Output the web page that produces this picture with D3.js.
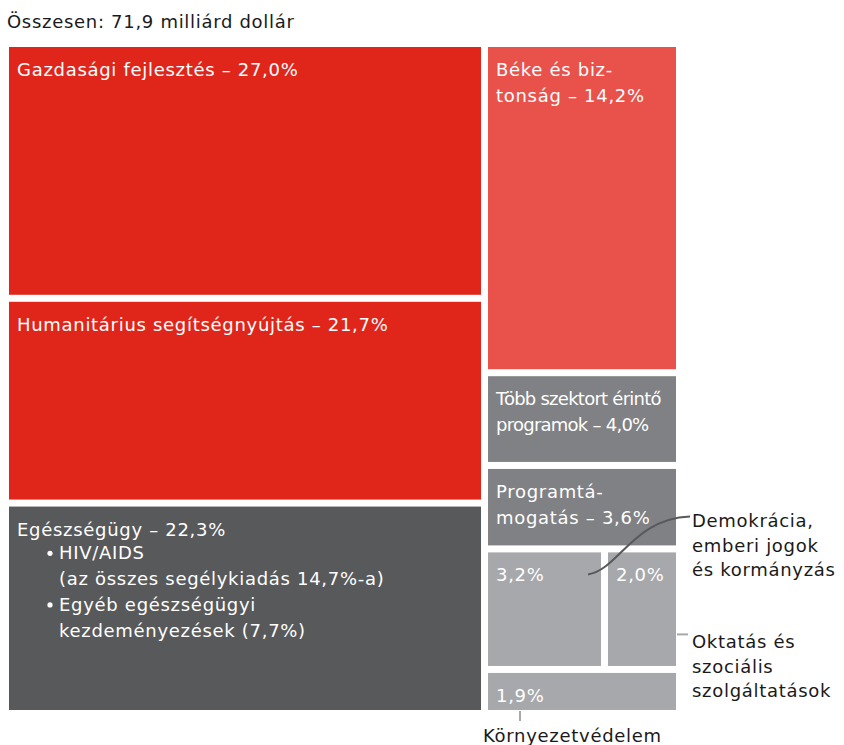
<!DOCTYPE html>
<html>
<head>
<meta charset="utf-8">
<script src="https://cdn.jsdelivr.net/npm/d3@7"></script>
<style>
  body { margin: 0; background: #fff; }
  svg text { font-family: "DejaVu Sans", sans-serif; letter-spacing: 0.7px; }
</style>
</head>
<body>
<div id="chart"></div>
<script>
// data
const title = "Összesen: 71,9 milliárd dollár";
const sectors = ["gazd", "hum", "eg", "beke", "tobb", "prog", "dem", "okt", "korny"];
const shares = [27.0, 21.7, 22.3, 14.2, 4.0, 3.6, 3.2, 2.0, 1.9];
const column = ["bal", "bal", "bal", "jobb", "jobb", "jobb", "kicsi", "kicsi", "jobb"];
const labels = [
  ["Gazdasági fejlesztés – 27,0%"],
  ["Humanitárius segítségnyújtás – 21,7%"],
  ["Egészségügy – 22,3%"],
  ["Béke és biz-", "tonság – 14,2%"],
  ["Több szektort érintő", "programok – 4,0%"],
  ["Programtá-", "mogatás – 3,6%"],
  ["3,2%"],
  ["2,0%"],
  ["1,9%"]
];
const healthBullets = [
  ["HIV/AIDS", "(az összes segélykiadás 14,7%-a)"],
  ["Egyéb egészségügyi", "kezdeményezések (7,7%)"]
];
const notes = {
  dem: ["Demokrácia,", "emberi jogok", "és kormányzás"],
  okt: ["Oktatás és", "szociális", "szolgáltatások"],
  korny: ["Környezetvédelem"]
};

const colors = {
  gazd: "#e0261b", hum: "#e0261b", beke: "#e8524b", eg: "#58595b",
  tobb: "#808184", prog: "#808184", dem: "#a7a8ab", okt: "#a7a8ab", korny: "#a7a8ab"
};

const w = 844, h = 745;
const margin = {top: 47, left: 9};
const innerWidth = 667, innerHeight = 663;
const fs = 18;

const svg = d3.select("#chart").append("svg")
  .attr("width", w)
  .attr("height", h);

svg.append("text")
  .attr("x", 7)
  .attr("y", 28)
  .attr("font-size", fs)
  .attr("fill", "#1a1a1a")
  .text(title);

// build hierarchy: left column, right column with a small sub-block
const leaf = i => ({name: sectors[i], value: shares[i], idx: i});
const idx = col => sectors.map((s, i) => i).filter(i => column[i] == col);
const tree = {
  name: "root", dir: "dice", children: [
    {name: "bal", dir: "slice", children: idx("bal").map(leaf)},
    {name: "jobb", dir: "slice", children: [
      ...idx("jobb").filter(i => sectors[i] != "korny").map(leaf),
      {name: "also", dir: "slice", children: [
        {name: "par", dir: "dice", children: idx("kicsi").map(leaf)},
        leaf(sectors.indexOf("korny"))
      ]}
    ]}
  ]
};

const root = d3.hierarchy(tree).sum(d => d.value || 0);
// keep data order, no sorting
d3.treemap()
  .size([innerWidth, innerHeight])
  .paddingInner(7)
  .tile((node, x0, y0, x1, y1) =>
    (node.data.dir == "dice" ? d3.treemapDice : d3.treemapSlice)(node, x0, y0, x1, y1))
  (root);

const plot = svg.append("g")
  .attr("transform", `translate(${margin.left}, ${margin.top})`);

const leaves = root.leaves();
const cell = plot.selectAll("g.cell")
  .data(leaves)
  .enter()
  .append("g")
  .attr("class", "cell")
  .attr("transform", d => `translate(${d.x0}, ${d.y0})`);

cell.append("rect")
  .attr("width", d => d.x1 - d.x0)
  .attr("height", d => d.y1 - d.y0)
  .attr("fill", d => colors[d.data.name]);

cell.append("text")
  .attr("fill", "#fff")
  .attr("font-size", fs)
  .style("letter-spacing", d => d.data.name == "tobb" ? "-0.75px" : null)
  .selectAll("tspan")
  .data(d => labels[d.data.idx])
  .enter()
  .append("tspan")
  .attr("x", 8)
  .attr("y", (d, i) => 29 + i * 26)
  .text(d => d);

// bullets inside the health tile
const eg = leaves.find(d => d.data.name == "eg");
const bullets = plot.append("g")
  .attr("transform", `translate(${eg.x0}, ${eg.y0})`);
healthBullets.forEach((lines, b) => {
  lines.forEach((line, j) => {
    const y = 27 + (1 + b * 2 + j) * 25.8;
    if (j == 0) {
      bullets.append("circle")
        .attr("cx", 41)
        .attr("cy", y - 6)
        .attr("r", 2.6)
        .attr("fill", "#fff");
    }
    bullets.append("text")
      .attr("x", 50)
      .attr("y", y)
      .attr("fill", "#fff")
      .attr("font-size", fs)
      .text(line);
  });
});

// annotations for the small tiles
const find = n => leaves.find(d => d.data.name == n);
const ann = svg.append("g")
  .attr("transform", `translate(${margin.left}, ${margin.top})`);

const dem = find("dem");
const okt = find("okt");
const korny = find("korny");
const noteX = okt.x1 + 16;

// Demokrácia
ann.append("path")
  .attr("d", `M${dem.x0 + 100},${dem.y0 + 22} C${dem.x0 + 130},${dem.y0 + 18} ${dem.x0 + 145},${dem.y0 - 34} ${noteX - 2},${dem.y0 - 36}`)
  .attr("fill", "none")
  .attr("stroke", "#58595b")
  .attr("stroke-width", 2);
ann.append("text")
  .attr("fill", "#1a1a1a")
  .attr("font-size", fs)
  .selectAll("tspan")
  .data(notes.dem)
  .enter()
  .append("tspan")
  .attr("x", noteX)
  .attr("y", (d, i) => dem.y0 - 25 + i * 24.5)
  .text(d => d);

// Oktatás
ann.append("line")
  .attr("x1", okt.x1 + 1)
  .attr("x2", okt.x1 + 12)
  .attr("y1", okt.y0 + 82)
  .attr("y2", okt.y0 + 82)
  .attr("stroke", "#a7a8ab")
  .attr("stroke-width", 2);
ann.append("text")
  .attr("fill", "#1a1a1a")
  .attr("font-size", fs)
  .selectAll("tspan")
  .data(notes.okt)
  .enter()
  .append("tspan")
  .attr("x", noteX)
  .attr("y", (d, i) => okt.y0 + 96 + i * 24.5)
  .text(d => d);

// Környezetvédelem
ann.append("line")
  .attr("x1", korny.x0 + 32)
  .attr("x2", korny.x0 + 32)
  .attr("y1", korny.y1 + 1)
  .attr("y2", korny.y1 + 11)
  .attr("stroke", "#a7a8ab")
  .attr("stroke-width", 2);
ann.append("text")
  .attr("x", korny.x0 - 5)
  .attr("y", korny.y1 + 32)
  .attr("fill", "#1a1a1a")
  .attr("font-size", fs)
  .text(notes.korny[0]);
</script>
</body>
</html>
